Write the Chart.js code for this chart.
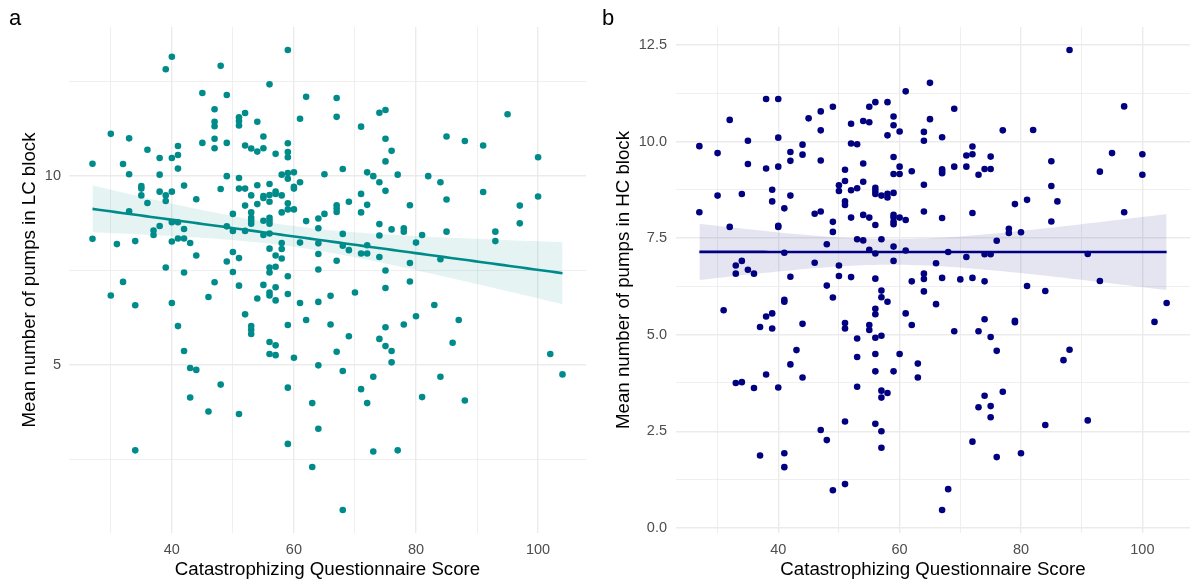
<!DOCTYPE html>
<html>
<head>
<meta charset="utf-8">
<script src="https://cdn.jsdelivr.net/npm/chart.js@4.4.1/dist/chart.umd.min.js"></script>
<style>
  html, body { margin: 0; padding: 0; background: #fff; }
  #wrap { position: relative; width: 1200px; height: 588px; overflow: hidden; }
  canvas { position: absolute; top: 0; }
  #cA { left: 0; }
  #cB { left: 600px; }
  .tag { position: absolute; top: 5px; font: 22px "Liberation Sans", Arial, sans-serif; color: #000; }
</style>
</head>
<body>
<div id="wrap">
  <canvas id="cA" width="600" height="588"></canvas>
  <canvas id="cB" width="600" height="588"></canvas>
  <div class="tag" style="left:9px">a</div>
  <div class="tag" style="left:602px">b</div>
</div>
<script>
// questionnaire scores (x) and the pump means observed at each score
const lcScores = [27, 30, 31, 32, 33, 34, 35, 36, 37, 38, 39, 40, 41, 42, 43, 44, 45, 46, 47, 48, 49, 50,
  51, 52, 53, 54, 55, 56, 57, 58, 59, 60, 61, 62, 63, 64, 65, 66, 67, 68, 69, 70, 71, 72, 73, 74, 75, 76,
  77, 78, 79, 80, 81, 82, 83, 84, 85, 86, 87, 88, 91, 93, 95, 97, 100, 102, 104];
const lcPumps = [
  [10.33, 8.34], [11.12, 6.84], [8.2], [10.32, 7.2], [11.0, 10.05, 9.07], [8.28, 6.58, 2.74],
  [9.74, 9.67, 9.49], [10.7, 9.29], [8.56, 8.44], [10.48, 10.04, 9.59, 8.68], [12.83, 9.49, 9.34, 7.58],
  [13.16, 10.48, 9.59, 8.78, 8.27, 6.64], [10.8, 10.56, 10.2, 8.78, 8.35, 6.03], [9.75, 8.6, 8.35, 7.45, 5.37],
  [8.23, 4.92, 4.14], [9.39, 7.9, 4.87], [12.2, 10.88], [6.8, 3.77],
  [11.77, 11.44, 11.32, 10.99, 10.74, 7.19], [12.92, 9.66, 4.48], [12.15, 10.88, 10.0, 8.67, 7.74],
  [9.0, 8.55, 7.99, 7.46], [11.56, 11.46, 11.34, 9.95, 9.67, 7.83, 7.1, 3.7],
  [11.67, 10.81, 9.67, 9.22, 8.55, 6.34], [10.73, 9.49, 9.04, 8.9, 8.82, 8.74, 6.03, 5.93, 5.82],
  [11.44, 10.65, 9.76, 9.26, 6.76], [11.05, 10.74, 9.47, 9.42, 8.82, 8.44, 7.12],
  [12.43, 9.79, 9.5, 9.32, 8.9, 8.82, 8.74, 8.48, 8.08, 7.58, 7.45, 6.92, 6.84, 5.61, 5.29],
  [10.59, 9.59, 9.53, 7.9, 7.6, 7.06, 6.71, 5.52, 5.26], [10.04, 9.49, 9.04, 8.23, 8.07, 7.82],
  [13.34, 10.87, 10.64, 10.5, 10.08, 9.93, 9.28, 9.12, 7.35, 6.88, 6.06, 4.4, 2.91],
  [10.1, 9.72, 9.67, 9.12, 5.19], [11.52, 9.84, 8.24, 6.64], [12.1, 8.81, 6.19], [3.99, 2.3],
  [8.88, 8.62, 8.22, 7.94, 7.53, 6.67, 4.99, 3.31], [10.05, 9.0], [6.83, 6.07],
  [12.07, 11.57, 9.23, 9.14, 9.05, 7.76, 5.35], [10.19, 8.47, 8.16, 4.84, 1.16], [9.32, 8.04, 5.76], [6.92],
  [11.31, 9.53, 9.04, 7.95, 4.36], [10.1, 9.24, 8.17, 7.95, 3.99], [10.0, 4.69, 2.71],
  [11.68, 9.84, 8.73, 8.43, 7.86, 5.69], [11.75, 10.99, 10.39, 9.61, 7.5, 7.04, 6.0, 5.5],
  [10.67, 8.59, 5.37, 5.07], [10.04, 2.74], [8.62, 8.53, 6.07], [9.23, 7.7, 7.21], [8.24, 6.29],
  [8.44, 4.15], [10.0], [6.59], [9.84, 7.8, 4.69], [11.05, 9.38, 8.53], [5.59], [6.19], [10.93, 4.06],
  [10.81, 9.58], [8.53, 8.28], [11.64], [9.22, 8.75], [10.5, 9.46], [5.29], [4.75]
];

const hcScores = [27, 30, 31, 32, 33, 34, 35, 36, 37, 38, 39, 40, 41, 42, 43, 44, 45, 46, 47, 48, 49, 50,
  51, 52, 53, 54, 55, 56, 57, 58, 59, 60, 61, 62, 63, 64, 65, 66, 67, 68, 69, 70, 71, 72, 73, 74, 75, 76,
  77, 78, 79, 80, 81, 82, 84, 85, 86, 87, 88, 91, 93, 95, 97, 100, 102, 104];
const hcPumps = [
  [9.88, 8.17], [9.7, 8.6], [5.63], [10.56, 7.79], [6.79, 6.58, 3.75], [8.64, 6.91, 3.77],
  [10.02, 9.42, 6.68], [6.58, 3.62], [5.2, 1.87], [11.1, 9.3, 5.47, 3.97], [8.75, 8.45, 5.55, 5.16],
  [11.1, 10.1, 9.35, 7.82, 7.79, 3.63], [8.27, 7.12, 5.9, 5.85, 1.93, 1.57], [9.73, 9.5, 8.6, 6.5, 4.23],
  [4.6], [9.92, 9.66, 5.28, 3.89], [10.6], [8.13, 6.86], [10.78, 10.29, 9.51, 8.19, 2.53],
  [7.34, 6.27, 2.27], [10.9, 7.92, 7.66, 5.96, 0.97], [8.87, 8.72, 6.79, 6.52],
  [9.27, 8.98, 8.45, 8.36, 5.3, 5.16, 2.75, 1.13], [10.46, 9.95, 8.74, 8.03, 6.49],
  [9.93, 8.79, 7.47, 4.9, 4.42, 3.65], [10.53, 9.43, 8.96, 8.1, 7.44], [10.9, 10.5, 8.03, 7.2, 5.25, 5.12],
  [11.02, 8.8, 8.72, 8.64, 7.84, 7.1, 6.45, 5.67, 5.53, 4.92, 4.5, 4.05, 2.69],
  [8.6, 7.47, 6.14, 5.97, 4.97, 3.55, 3.37, 2.5, 2.07], [11.02, 10.16, 8.65, 8.55, 5.85, 3.49],
  [10.65, 10.42, 9.6, 9.16, 8.67, 8.1, 8.03, 7.92, 7.86, 7.28, 6.91, 4.05],
  [10.26, 9.35, 9.16, 8.03, 4.5], [11.3, 7.97, 7.18, 5.55], [9.23, 6.38, 5.25], [4.25, 3.89],
  [10.25, 10.02, 8.88, 8.19, 6.58, 6.44, 6.12], [11.52, 10.58], [6.85, 5.79],
  [10.11, 9.28, 9.23, 9.18, 8.02, 6.47, 0.46], [7.14, 1.0], [10.85, 9.35, 5.09], [6.43],
  [9.64, 9.35, 7.01], [9.87, 9.67, 8.15, 6.47, 2.23], [9.14, 5.09, 3.12], [9.29, 7.08, 6.38, 5.4, 3.42],
  [9.61, 9.29, 7.08, 4.94, 3.15, 2.86], [7.43, 4.58, 1.83], [10.29, 3.52], [7.74, 7.63],
  [8.38, 5.36, 5.32], [7.65, 1.93], [8.49, 6.26], [10.3], [6.13, 2.66], [9.49, 8.85, 7.93], [8.45],
  [4.34], [12.37, 4.61], [7.09, 2.78], [9.22, 6.39], [9.7], [10.91, 8.17], [9.67, 9.14], [5.33], [5.82]
];

// grid positions and which of them carry a label
const xGrid = [30, 40, 50, 60, 70, 80, 90, 100];
const xLabels = [40, 60, 80, 100];
const lcYGrid = [2.5, 5, 7.5, 10, 12.5];
const lcYLabels = [5, 10];
const hcYGrid = [0, 1.25, 2.5, 3.75, 5, 6.25, 7.5, 8.75, 10, 11.25, 12.5];
const hcYLabels = [0, 2.5, 5, 7.5, 10, 12.5];

const FONT = '"Liberation Sans", Arial, sans-serif';

function flatten(scores, pumps) {
  const pts = [];
  scores.forEach((s, i) => pumps[i].forEach(p => pts.push({ x: s, y: p })));
  return pts;
}

// ordinary least squares fit with a 95% confidence band, like geom_smooth(method = "lm")
function lmBand(pts, steps) {
  const n = pts.length;
  const mx = pts.reduce((a, p) => a + p.x, 0) / n;
  const my = pts.reduce((a, p) => a + p.y, 0) / n;
  let sxx = 0, sxy = 0;
  pts.forEach(p => { sxx += (p.x - mx) ** 2; sxy += (p.x - mx) * (p.y - my); });
  const b = sxy / sxx, a = my - b * mx;
  let sse = 0;
  pts.forEach(p => { sse += (p.y - a - b * p.x) ** 2; });
  const s = Math.sqrt(sse / (n - 2));
  const t = 1.97;
  const xs = pts.map(p => p.x);
  const lo = Math.min(...xs), hi = Math.max(...xs);
  const fit = [], upper = [], lower = [];
  for (let i = 0; i <= steps; i++) {
    const x = lo + (hi - lo) * i / steps;
    const yh = a + b * x;
    const se = s * Math.sqrt(1 / n + (x - mx) ** 2 / sxx);
    fit.push({ x, y: yh });
    upper.push({ x, y: yh + t * se });
    lower.push({ x, y: yh - t * se });
  }
  return { fit, upper, lower };
}

function expand(vals) {
  const lo = Math.min(...vals), hi = Math.max(...vals);
  const d = (hi - lo) * 0.05;
  return [lo - d, hi + d];
}

function makePanel(id, scores, pumps, o) {
  const pts = flatten(scores, pumps);
  const band = lmBand(pts, 80);
  const [xmin, xmax] = expand(pts.map(p => p.x));
  const [ymin, ymax] = expand(pts.map(p => p.y));

  const gridWidth = majors => ctx => majors.includes(ctx.tick.value) ? 1.4 : 0.8;

  new Chart(document.getElementById(id), {
    type: 'scatter',
    data: {
      datasets: [
        { type: 'line', data: band.upper, fill: '+1', backgroundColor: o.band, borderColor: 'rgba(0,0,0,0)', pointRadius: 0, order: 3 },
        { type: 'line', data: band.lower, fill: false, borderColor: 'rgba(0,0,0,0)', pointRadius: 0, order: 3 },
        { data: pts, pointRadius: 3.3, pointBackgroundColor: o.color, pointBorderWidth: 0, order: 2 },
        { type: 'line', data: band.fit, fill: false, borderColor: o.color, borderWidth: 2.6, pointRadius: 0, order: 1 }
      ]
    },
    options: {
      responsive: false,
      animation: false,
      events: [],
      layout: { padding: { left: 0, top: 27, right: o.padRight, bottom: 0 } },
      plugins: { legend: { display: false }, tooltip: { enabled: false } },
      scales: {
        x: {
          type: 'linear', min: xmin, max: xmax,
          afterBuildTicks: s => { s.ticks = xGrid.map(v => ({ value: v })); },
          afterFit: s => { s.height = 55; },
          grid: { drawTicks: false, color: '#EBEBEB', lineWidth: gridWidth(xLabels) },
          border: { display: false },
          ticks: {
            autoSkip: false, maxRotation: 0, padding: 8, color: '#4D4D4D',
            font: { family: FONT, size: 14.5 },
            callback: v => xLabels.includes(v) ? String(v) : ''
          },
          title: {
            display: true, text: 'Catastrophizing Questionnaire Score', color: '#000',
            font: { family: FONT, size: 18.7 }, padding: { top: 0, bottom: 7 }
          }
        },
        y: {
          type: 'linear', min: ymin, max: ymax,
          afterBuildTicks: s => { s.ticks = o.yGrid.map(v => ({ value: v })); },
          afterFit: s => { s.width = o.yWidth; },
          grid: { drawTicks: false, color: '#EBEBEB', lineWidth: gridWidth(o.yLabels) },
          border: { display: false },
          ticks: {
            autoSkip: false, padding: o.tickPad, color: '#4D4D4D',
            font: { family: FONT, size: 14.5 },
            callback: v => o.yLabels.includes(v) ? o.fmt(v) : ''
          },
          title: {
            display: true, text: o.yTitle, color: '#000',
            font: { family: FONT, size: 18.7 }, padding: { top: o.titlePad, bottom: 0 }
          }
        }
      }
    }
  });
}

makePanel('cA', lcScores, lcPumps, {
  color: '#008B8B', band: 'rgba(0,139,139,0.1)',
  yGrid: lcYGrid, yLabels: lcYLabels, fmt: v => String(v),
  yTitle: 'Mean number of pumps in LC block',
  yWidth: 69, padRight: 14, tickPad: 8, titlePad: 18.4
});

makePanel('cB', hcScores, hcPumps, {
  color: '#000080', band: 'rgba(0,0,128,0.1)',
  yGrid: hcYGrid, yLabels: hcYLabels, fmt: v => v.toFixed(1),
  yTitle: 'Mean number of pumps in HC block',
  yWidth: 76, padRight: 10, tickPad: 9, titlePad: 12.3
});
</script>
</body>
</html>
